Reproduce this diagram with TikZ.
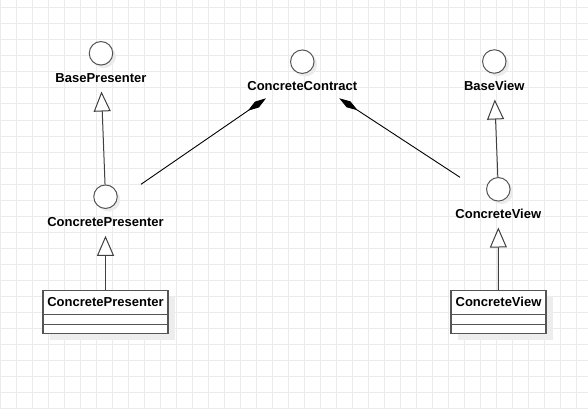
\documentclass[tikz,border=0pt]{standalone}
\usepackage{fontspec}
\setmainfont{Liberation Sans}
\usetikzlibrary{arrows.meta,positioning,shadows}
\definecolor{gridgray}{HTML}{EBEBEB}
\definecolor{shapegray}{HTML}{555555}
\begin{document}
\begin{tikzpicture}
[x=1pt,y=-1pt,
every node/.style={font=\bfseries\fontsize{13}{15}\selectfont},
iface/.style={circle,draw=shapegray,fill=white,line width=1pt,minimum size=23.5pt,inner sep=0pt,
  drop shadow={shadow xshift=3pt,shadow yshift=-3pt,fill=black!8,opacity=1}},
ilabel/.style={anchor=base,inner sep=0pt,text height=9.5pt,text depth=2.7pt},
classpart/.style={rectangle,draw=shapegray,fill=white,line width=1.1pt,inner sep=0pt,outer sep=0pt,
  drop shadow={shadow xshift=7pt,shadow yshift=-7pt,fill=black!7,opacity=1}},
gen/.style={draw=black!75,line width=1pt,shorten >=6.3pt,
  -{Triangle[open,length=20pt,width=17pt,fill=white]}},
comp/.style={draw=black,line width=0.9pt,-{Diamond[length=22pt,width=7pt]}},
gridline/.style={draw=gridgray,line width=1pt},
]

\useasboundingbox[fill=white] (0,0) rectangle (588,409);
\foreach \gx in {0,16,...,576} \draw[gridline] (\gx,0) -- (\gx,409);
\foreach \gy in {8,24,...,408} \draw[gridline] (0,\gy) -- (588,\gy);

\node[iface] (bpc) at (101,53.3) {};
\node[ilabel] (bpl) at (101,82.3) {BasePresenter};
\node[iface] (ccc) at (302.3,61.7) {};
\node[ilabel] (ccl) at (302.3,90.3) {ConcreteContract};
\node[iface] (bvc) at (494.3,61.5) {};
\node[ilabel] (bvl) at (494.3,90.3) {BaseView};

\node[iface] (cpc) at (105.5,196.7) {};
\node[ilabel] (cpl) at (105.5,226.6) {ConcretePresenter};
\node[iface] (cvc) at (498.3,189.3) {};
\node[ilabel] (cvl) at (498.3,218.3) {ConcreteView};

\node[classpart,minimum width=125pt,minimum height=24.3pt] (cph) at (105.5,302.2) {ConcretePresenter};
\node[classpart,minimum width=125pt,minimum height=10pt,below=0pt of cph] (cpa) {};
\node[classpart,minimum width=125pt,minimum height=9pt,below=0pt of cpa] (cpm) {};
\node[classpart,minimum width=95pt,minimum height=24.3pt] (cvh) at (498.5,302.2) {ConcreteView};
\node[classpart,minimum width=95pt,minimum height=10pt,below=0pt of cvh] (cva) {};
\node[classpart,minimum width=95pt,minimum height=9pt,below=0pt of cva] (cvm) {};

\coordinate (cpjoin) at (141,184.3);
\coordinate (ccleft) at (266,98.3);
\coordinate (ccright) at (339.3,98.3);
\coordinate (cvjoin) at (460,177.3);

\draw[gen] (cpc) -- (bpl);
\draw[gen] (cvc) -- (bvl);
\draw[gen] (cph) -- (cpl);
\draw[gen] (cvh) -- (cvl);
\draw[comp] (cpjoin) -- (ccleft);
\draw[comp] (cvjoin) -- (ccright);
\end{tikzpicture}
\end{document}
